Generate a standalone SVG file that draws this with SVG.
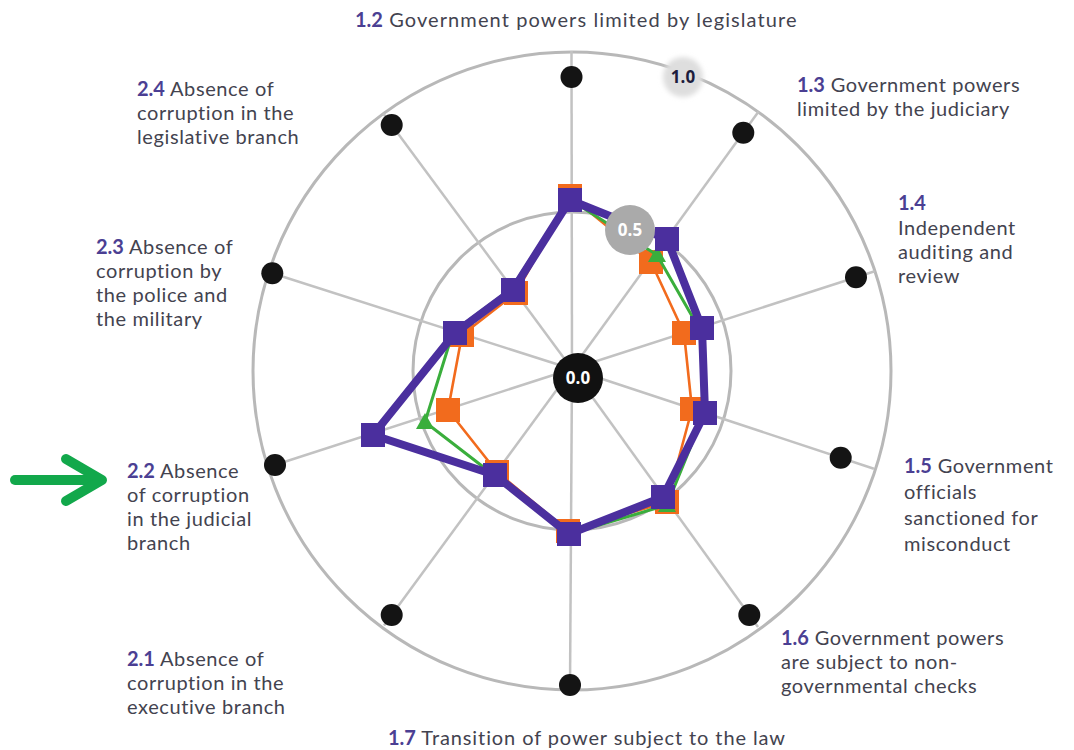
<svg xmlns="http://www.w3.org/2000/svg" width="1074" height="750" viewBox="0 0 1074 750">
<defs>
<style>
.lbl{font-family:Lato,"Open Sans","Liberation Sans",sans-serif;font-size:20px;letter-spacing:0.6px;fill:#43434f}
.wide{letter-spacing:1.1px}
.num{font-weight:bold;fill:#4b3f93;letter-spacing:0}
.ring{fill:none;stroke:#b8b8b8;stroke-width:3}
.spoke{stroke:#c2c2c2;stroke-width:2.5}
.dot{fill:#141414}
.lo{fill:none;stroke:#f26b1d;stroke-width:2.6;stroke-linejoin:round}
.lg{fill:none;stroke:#3aae3c;stroke-width:3;stroke-linejoin:round}
.lp{fill:none;stroke:#4b2f9e;stroke-width:8;stroke-linejoin:round}
.so{fill:#f26b1d}
.sg{fill:#3aae3c}
.sp{fill:#4b2f9e}
.badge{font-family:"Open Sans","Liberation Sans",sans-serif;font-size:17px;font-weight:bold;text-anchor:middle}
</style>
<filter id="soft" x="-50%" y="-50%" width="200%" height="200%"><feGaussianBlur stdDeviation="2.5"/></filter>
<rect id="sq" x="-12" y="-12" width="24" height="24"/>
<polygon id="tri" points="0,-9 9,7 -9,7"/>
</defs>
<rect width="1074" height="750" fill="#ffffff"/>

<g id="grid">
<circle class="ring" cx="572" cy="371" r="319"/>
<circle class="ring" cx="572" cy="371" r="159"/>
</g>

<g id="connectors">
<line class="spoke" x1="572" y1="369" x2="571.5" y2="51"/>
<line class="spoke" x1="572" y1="369" x2="758.6" y2="111.6"/>
<line class="spoke" x1="572" y1="369" x2="874.7" y2="271.3"/>
<line class="spoke" x1="572" y1="369" x2="873.9" y2="468.7"/>
<line class="spoke" x1="572" y1="369" x2="758" y2="627"/>
<line class="spoke" x1="572" y1="369" x2="570" y2="689"/>
<line class="spoke" x1="572" y1="369" x2="384" y2="625.5"/>
<line class="spoke" x1="572" y1="369" x2="269.4" y2="466.8"/>
<line class="spoke" x1="572" y1="369" x2="269.1" y2="272.3"/>
<line class="spoke" x1="572" y1="369" x2="383" y2="113.3"/>
</g>

<g id="dots">
<circle class="dot" cx="571.5" cy="77" r="11"/>
<circle class="dot" cx="743.3" cy="132.7" r="11"/>
<circle class="dot" cx="856" cy="277.3" r="11"/>
<circle class="dot" cx="840.7" cy="457.7" r="11"/>
<circle class="dot" cx="749.3" cy="615" r="11"/>
<circle class="dot" cx="570" cy="685" r="11"/>
<circle class="dot" cx="391.7" cy="615" r="11"/>
<circle class="dot" cx="275" cy="465" r="11"/>
<circle class="dot" cx="272.3" cy="273.3" r="11"/>
<circle class="dot" cx="391.7" cy="125" r="11"/>
</g>

<g id="series-orange">
<polygon class="lo" points="570,196 651,262 684,333 692,409 667,502 568,531 497,472 448,410 462,335 516,293"/>
<use href="#sq" class="so" x="570" y="196"/>
<use href="#sq" class="so" x="651" y="262"/>
<use href="#sq" class="so" x="684" y="333"/>
<use href="#sq" class="so" x="692" y="409"/>
<use href="#sq" class="so" x="667" y="502"/>
<use href="#sq" class="so" x="568" y="531"/>
<use href="#sq" class="so" x="497" y="472"/>
<use href="#sq" class="so" x="448" y="410"/>
<use href="#sq" class="so" x="462" y="335"/>
<use href="#sq" class="so" x="516" y="293"/>
</g>

<g id="series-green">
<polygon class="lg" points="569,199 657,255 700,330 704,414 667,505 569,534 495,476 425,422 453,332 511,289"/>
<use href="#tri" class="sg" x="657" y="255"/>
<use href="#tri" class="sg" x="425" y="422"/>
<use href="#tri" class="sg" x="667" y="505"/>
</g>

<g id="series-purple">
<polygon class="lp" points="570,200 667,239 702,328 705,413 663,497 569,534 495,475 373,435 455,333 513,290"/>
<use href="#sq" class="sp" x="570" y="200"/>
<use href="#sq" class="sp" x="667" y="239"/>
<use href="#sq" class="sp" x="702" y="328"/>
<use href="#sq" class="sp" x="705" y="413"/>
<use href="#sq" class="sp" x="663" y="497"/>
<use href="#sq" class="sp" x="569" y="534"/>
<use href="#sq" class="sp" x="495" y="475"/>
<use href="#sq" class="sp" x="373" y="435"/>
<use href="#sq" class="sp" x="455" y="333"/>
<use href="#sq" class="sp" x="513" y="290"/>
</g>

<g id="badge-1-0">
<circle cx="683" cy="77" r="20" fill="#dedede" filter="url(#soft)"/>
<text class="badge" x="683" y="83" fill="#1d1d3d">1.0</text>
</g>
<g id="badge-0-5">
<circle cx="630" cy="230" r="25" fill="#aaaaaa"/>
<text class="badge" x="630" y="236" fill="#ffffff">0.5</text>
</g>
<g id="badge-0-0">
<circle cx="578" cy="378" r="25" fill="#111111"/>
<text class="badge" x="578" y="384" fill="#ffffff">0.0</text>
</g>

<g id="label-1-2"><text class="lbl wide" x="355" y="27"><tspan class="num">1.2</tspan> Government powers limited by legislature</text></g>
<g id="label-1-3"><text class="lbl" x="797" y="92"><tspan class="num">1.3</tspan> Government powers<tspan x="797" dy="24">limited by the judiciary</tspan></text></g>
<g id="label-1-4"><text class="lbl" x="898" y="210"><tspan class="num">1.4</tspan><tspan x="898" dy="25">Independent</tspan><tspan x="898" dy="24">auditing and</tspan><tspan x="898" dy="24">review</tspan></text></g>
<g id="label-1-5"><text class="lbl" x="904" y="473"><tspan class="num">1.5</tspan> Government<tspan x="904" dy="26">officials</tspan><tspan x="904" dy="26">sanctioned for</tspan><tspan x="904" dy="26">misconduct</tspan></text></g>
<g id="label-1-6"><text class="lbl" x="781" y="645"><tspan class="num">1.6</tspan> Government powers<tspan x="781" dy="24">are subject to non-</tspan><tspan x="781" dy="24">governmental checks</tspan></text></g>
<g id="label-1-7"><text class="lbl" x="388" y="745" style="letter-spacing:0.9px"><tspan class="num">1.7</tspan> Transition of power subject to the law</text></g>
<g id="label-2-1"><text class="lbl" x="127" y="666"><tspan class="num">2.1</tspan> Absence of<tspan x="127" dy="24">corruption in the</tspan><tspan x="127" dy="24">executive branch</tspan></text></g>
<g id="label-2-2"><text class="lbl" x="127" y="478"><tspan class="num">2.2</tspan> Absence<tspan x="127" dy="24">of corruption</tspan><tspan x="127" dy="24">in the judicial</tspan><tspan x="127" dy="24">branch</tspan></text></g>
<g id="label-2-3"><text class="lbl" x="96" y="254"><tspan class="num">2.3</tspan> Absence of<tspan x="96" dy="24">corruption by</tspan><tspan x="96" dy="24">the police and</tspan><tspan x="96" dy="24">the military</tspan></text></g>
<g id="label-2-4"><text class="lbl" x="137" y="96"><tspan class="num">2.4</tspan> Absence of<tspan x="137" dy="24">corruption in the</tspan><tspan x="137" dy="24">legislative branch</tspan></text></g>

<g id="arrow" fill="none" stroke="#12a84b" stroke-width="10" stroke-linecap="round" stroke-linejoin="round">
<line x1="15" y1="480" x2="100" y2="480"/>
<polyline points="66,459 102,480 66,501"/>
</g>
</svg>
